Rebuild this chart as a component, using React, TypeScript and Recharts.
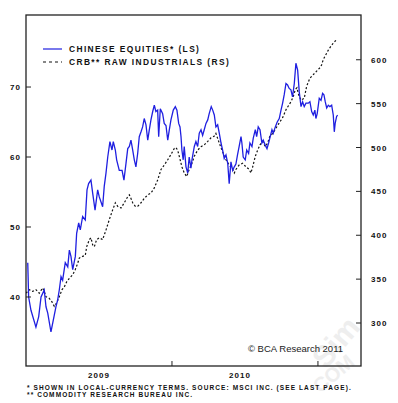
import { LineChart, Line, XAxis, YAxis } from 'recharts'

// time in decimal years
const equityYears = [
  2009.012, 2009.018, 2009.034, 2009.068, 2009.087, 2009.103, 2009.125, 2009.137, 2009.149, 2009.171,
  2009.187, 2009.205, 2009.217, 2009.228, 2009.24, 2009.251, 2009.269, 2009.286, 2009.297, 2009.308,
  2009.32, 2009.338, 2009.347, 2009.361, 2009.372, 2009.388, 2009.406, 2009.418, 2009.429, 2009.445,
  2009.457, 2009.473, 2009.491, 2009.502, 2009.525, 2009.536, 2009.548, 2009.56, 2009.575, 2009.589,
  2009.598, 2009.612, 2009.621, 2009.639, 2009.658, 2009.671, 2009.685, 2009.697, 2009.708, 2009.719,
  2009.731, 2009.742, 2009.753, 2009.765, 2009.776, 2009.788, 2009.799, 2009.81, 2009.822, 2009.834,
  2009.845, 2009.856, 2009.868, 2009.879, 2009.89, 2009.902, 2009.909, 2009.92, 2009.936, 2009.947,
  2009.959, 2009.971, 2009.982, 2009.993, 2010.009, 2010.023, 2010.034, 2010.046, 2010.055, 2010.062,
  2010.068, 2010.077, 2010.084, 2010.096, 2010.108, 2010.118, 2010.13, 2010.137, 2010.153, 2010.164,
  2010.176, 2010.187, 2010.199, 2010.21, 2010.221, 2010.233, 2010.245, 2010.255, 2010.269, 2010.279,
  2010.29, 2010.301, 2010.313, 2010.324, 2010.336, 2010.347, 2010.358, 2010.37, 2010.382, 2010.392,
  2010.404, 2010.416, 2010.427, 2010.438, 2010.449, 2010.46, 2010.473, 2010.479, 2010.488, 2010.502,
  2010.512, 2010.525, 2010.534, 2010.548, 2010.557, 2010.571, 2010.58, 2010.591, 2010.603, 2010.616,
  2010.625, 2010.639, 2010.651, 2010.662, 2010.673, 2010.685, 2010.694, 2010.708, 2010.721, 2010.735,
  2010.747, 2010.758, 2010.769, 2010.781, 2010.792, 2010.803, 2010.815, 2010.826, 2010.838, 2010.849,
  2010.861, 2010.872, 2010.884, 2010.895, 2010.906, 2010.918, 2010.934, 2010.945, 2010.957, 2010.968,
  2010.979, 2010.986, 2010.995, 2011.009, 2011.021, 2011.032, 2011.041, 2011.05, 2011.06, 2011.071,
  2011.082, 2011.094, 2011.105, 2011.112, 2011.118, 2011.128, 2011.135,
]
const equityValues = [
  44.9, 40, 38.1, 35.7, 37.2, 40, 41, 38.6, 37.7, 35,
  36.7, 38.6, 39.6, 41, 42.9, 42.4, 44.9, 44.3, 46.7, 45.8,
  43.9, 45.8, 49.1, 50.6, 49.6, 51.5, 51, 55.3, 56.2, 56.7,
  54.8, 52.4, 55.3, 54.3, 52.9, 55.8, 57.7, 60, 62.2, 61,
  62.2, 61, 59.6, 58.1, 58.1, 56.7, 59.1, 61.2, 61.5, 62.4,
  61, 59.6, 58.6, 60.5, 62.9, 63.6, 64.3, 65.5, 64.6, 62.4,
  63.9, 65.3, 66.5, 67.4, 66.5, 66.7, 62.9, 66.9, 66.2, 64.8,
  64.5, 62.4, 63.9, 65.3, 66.7, 67.2, 66.7, 64.8, 64.3, 62.9,
  61, 59.6, 61.5, 58.6, 57.7, 60, 58.4, 59.6, 61.5, 62.2,
  61.5, 63.4, 63.9, 63.1, 63.9, 64.8, 65.3, 66.2, 67.2, 66.7,
  66, 64.3, 64.6, 63.4, 62, 61, 59.8, 60.3, 59.1, 56.2,
  59.3, 58.1, 58.6, 59, 60.3, 61.5, 62.9, 62, 60, 59.6,
  61, 60.5, 62, 61.5, 62.7, 63.9, 62.9, 64.3, 63.9, 62,
  62.4, 61.7, 61.2, 62, 62.9, 63.9, 63.4, 64.3, 65, 65.5,
  66.7, 67.7, 68.9, 70.5, 70.3, 69.8, 69.6, 68.6, 70.5, 73.4,
  72.4, 69.3, 67.2, 67.9, 67.2, 67.7, 67.7, 67.9, 66.5, 66,
  66.7, 65.5, 66.2, 68.4, 68.1, 69.1, 68.9, 67.9, 67, 67.4,
  67.2, 67.4, 66, 63.6, 64.8, 65.8, 66,
]

const crbYears = [
  2009.0, 2009.023, 2009.046, 2009.068, 2009.091, 2009.114, 2009.125, 2009.137, 2009.16, 2009.178,
  2009.194, 2009.21, 2009.228, 2009.247, 2009.262, 2009.279, 2009.297, 2009.32, 2009.338, 2009.354,
  2009.365, 2009.388, 2009.406, 2009.416, 2009.434, 2009.445, 2009.457, 2009.468, 2009.484, 2009.502,
  2009.525, 2009.548, 2009.571, 2009.594, 2009.612, 2009.628, 2009.651, 2009.673, 2009.697, 2009.708,
  2009.719, 2009.731, 2009.749, 2009.765, 2009.788, 2009.81, 2009.834, 2009.856, 2009.879, 2009.902,
  2009.925, 2009.947, 2009.971, 2009.993, 2010.016, 2010.027, 2010.039, 2010.05, 2010.068, 2010.084,
  2010.101, 2010.118, 2010.137, 2010.153, 2010.176, 2010.199, 2010.221, 2010.245, 2010.267, 2010.29,
  2010.301, 2010.324, 2010.347, 2010.37, 2010.392, 2010.416, 2010.427, 2010.438, 2010.46, 2010.484,
  2010.507, 2010.529, 2010.541, 2010.553, 2010.571, 2010.587, 2010.603, 2010.621, 2010.639, 2010.655,
  2010.671, 2010.69, 2010.712, 2010.735, 2010.758, 2010.781, 2010.803, 2010.815, 2010.831, 2010.845,
  2010.856, 2010.868, 2010.884, 2010.906, 2010.923, 2010.945, 2010.968, 2010.991, 2011.014, 2011.025,
  2011.036, 2011.055, 2011.071, 2011.087, 2011.105, 2011.128,
]
const crbValues = [
  334, 338, 336, 338, 334, 340, 336, 330, 328, 324,
  319, 323, 330, 338, 341, 347, 351, 355, 361, 368,
  374, 376, 377, 387, 395, 397, 389, 387, 395, 397,
  395, 406, 418, 429, 437, 433, 431, 437, 444, 446,
  442, 437, 433, 433, 437, 442, 446, 448, 454, 463,
  475, 480, 486, 492, 499, 500, 497, 490, 478, 471,
  467, 475, 482, 490, 497, 501, 503, 507, 511, 513,
  516, 505, 495, 486, 480, 475, 471, 475, 480, 482,
  478, 475, 471, 478, 490, 497, 503, 507, 501, 505,
  513, 516, 522, 528, 534, 543, 549, 552, 558, 566,
  568, 560, 554, 556, 570, 579, 583, 587, 591, 594,
  600, 606, 611, 615, 619, 623,
]

const leftTicks = [40, 50, 60, 70]
const rightTicks = [300, 350, 400, 450, 500, 550, 600]
const yearTicks = [2010, 2011]
const yearLabels = ['2009', '2010']

const equityData = equityYears.map((t, i) => ({ t, v: equityValues[i] }))
const crbData = crbYears.map((t, i) => ({ t, v: crbValues[i] }))

const FONT = '"Liberation Sans", Arial, sans-serif'
const BLUE = '#1f1fe0'

const LeftTick = ({ x, y, payload }: any) => (
  <g>
    <line x1={x} x2={x + 5} y1={y} y2={y} stroke="#222" />
    <text x={x - 5} y={y + 3} textAnchor="end" fontSize={8} fontWeight="bold" letterSpacing={1} fontFamily={FONT} fill="#111">
      {payload.value}
    </text>
  </g>
)

const RightTick = ({ x, y, payload }: any) => (
  <g>
    <line x1={x - 5} x2={x} y1={y} y2={y} stroke="#222" />
    <text x={x + 10} y={y + 3} textAnchor="start" fontSize={8} fontWeight="bold" letterSpacing={1} fontFamily={FONT} fill="#111">
      {payload.value}
    </text>
  </g>
)

const BottomTick = ({ x, y }: any) => <line x1={x} x2={x} y1={y - 5} y2={y} stroke="#222" />

export default function App() {
  return (
    <div style={{ position: 'absolute', left: 0, top: 0, width: 398, height: 403, background: '#fff' }}>
      <svg width={398} height={403} style={{ position: 'absolute', left: 0, top: 0 }}>
        {/* faint watermark */}
        <g fill="#eeeeee" fontFamily={FONT} fontWeight="bold">
          <text x={326} y={370} fontSize={30} transform="rotate(-50 326 370)">Sim</text>
          <text x={320} y={394} fontSize={20} transform="rotate(-40 320 394)">COM</text>
        </g>
      </svg>
      <div style={{ position: 'absolute', left: 0, top: 0 }}>
        <LineChart width={398} height={403} margin={{ top: 15, right: 0, bottom: 0, left: 0 }}>
          <XAxis
            dataKey="t"
            type="number"
            domain={[2009, 2011.295]}
            ticks={yearTicks}
            tick={BottomTick}
            tickLine={false}
            axisLine={false}
            tickSize={0}
            tickMargin={0}
            height={37}
            allowDataOverflow
          />
          <YAxis
            yAxisId="left"
            orientation="left"
            domain={[30.14, 80.29]}
            ticks={leftTicks}
            tick={LeftTick}
            tickLine={false}
            axisLine={false}
            tickSize={0}
            tickMargin={0}
            width={26}
            allowDataOverflow
          />
          <YAxis
            yAxisId="right"
            orientation="right"
            domain={[251, 651]}
            ticks={rightTicks}
            tick={RightTick}
            tickLine={false}
            axisLine={false}
            tickSize={0}
            tickMargin={0}
            width={37}
            allowDataOverflow
          />
          <Line
            yAxisId="right"
            data={crbData}
            dataKey="v"
            type="linear"
            stroke="#111"
            strokeWidth={1.2}
            strokeDasharray="2 2"
            dot={false}
            isAnimationActive={false}
          />
          <Line
            yAxisId="left"
            data={equityData}
            dataKey="v"
            type="linear"
            stroke={BLUE}
            strokeWidth={1.3}
            dot={false}
            isAnimationActive={false}
          />
        </LineChart>
      </div>
      <svg width={398} height={403} style={{ position: 'absolute', left: 0, top: 0, pointerEvents: 'none' }}>
        <rect x={26} y={15} width={335} height={351} fill="none" stroke="#222" strokeWidth={1.3} />
        <line x1={43} x2={62} y1={49} y2={49} stroke={BLUE} strokeWidth={1.2} />
        <line x1={43} x2={62} y1={62} y2={62} stroke="#111" strokeWidth={1.2} strokeDasharray="3 3" />
        <g fontFamily={FONT} fontWeight="bold" fontSize={8.4} letterSpacing={1.4} fill="#111">
          <text x={69} y={52}>CHINESE EQUITIES* (LS)</text>
          <text x={69} y={65}>CRB** RAW INDUSTRIALS (RS)</text>
        </g>
        <g fontFamily={FONT} fontWeight="bold" fontSize={8} letterSpacing={1} fill="#111" textAnchor="middle">
          <text x={99} y={378}>{yearLabels[0]}</text>
          <text x={240} y={378}>{yearLabels[1]}</text>
        </g>
        <text x={343} y={352} textAnchor="end" fontFamily={FONT} fontSize={9.5} fill="#222">© BCA Research 2011</text>
        <g fontFamily={FONT} fontWeight="bold" fontSize={6.5} letterSpacing={1.1} fill="#111">
          <text x={27} y={389.5}>* SHOWN IN LOCAL-CURRENCY TERMS. SOURCE: MSCI INC. (SEE LAST PAGE).</text>
          <text x={27} y={396.5}>** COMMODITY RESEARCH BUREAU INC.</text>
        </g>
      </svg>
    </div>
  )
}
